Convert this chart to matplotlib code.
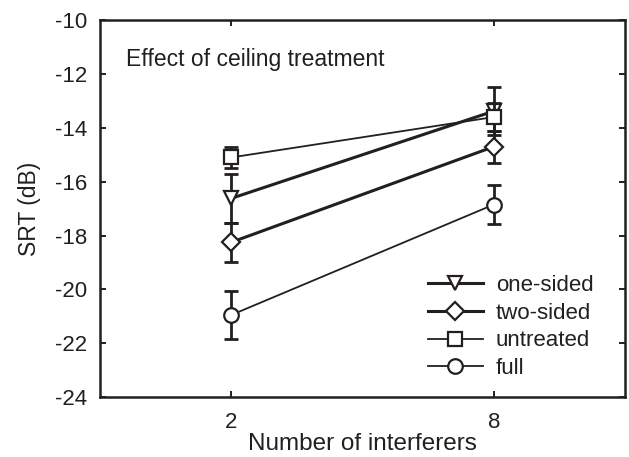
import matplotlib
matplotlib.use("Agg")
import matplotlib.pyplot as plt

plt.rcParams['font.family'] = ['Liberation Sans', 'DejaVu Sans']
plt.rcParams['axes.unicode_minus'] = False

interferers = [2, 8]
series_names = ["one-sided", "two-sided", "untreated", "full"]
srt_one_sided = [-16.62, -13.38]
err_one_sided = [0.9, 0.88]
srt_two_sided = [-18.25, -14.7]
err_two_sided = [0.72, 0.6]
srt_untreated = [-15.1, -13.6]
err_untreated = [0.38, 0.52]
srt_full = [-20.95, -16.85]
err_full = [0.9, 0.72]

yticks = [-24, -22, -20, -18, -16, -14, -12, -10]

ink = "#231f20"

fig = plt.figure(figsize=(6.29, 4.57), dpi=100)
ax = fig.add_axes([0.159, 0.131, 0.8346, 0.825])

styles = {
    "one-sided": dict(marker="v", ms=10, lw=2.2),
    "two-sided": dict(marker="D", ms=9, lw=2.2),
    "untreated": dict(marker="s", ms=9.5, lw=1.3),
    "full": dict(marker="o", ms=10.5, lw=1.3),
}
data = {
    "one-sided": (srt_one_sided, err_one_sided),
    "two-sided": (srt_two_sided, err_two_sided),
    "untreated": (srt_untreated, err_untreated),
    "full": (srt_full, err_full),
}
zorders = {"full": 3, "two-sided": 4, "one-sided": 5, "untreated": 6}

handles = []
for name in series_names:
    y, e = data[name]
    st = styles[name]
    ax.errorbar(interferers, y, yerr=e, fmt="none", ecolor=ink, elinewidth=2.0,
                capsize=5, capthick=2.0, zorder=zorders[name])
    h, = ax.plot(interferers, y, color=ink, lw=st["lw"], marker=st["marker"],
                 ms=st["ms"], mfc="white", mec=ink, mew=1.6, zorder=zorders[name] + 0.5)
    handles.append(h)

ax.set_xlim(-1, 11)
ax.set_ylim(-24, -10)
ax.set_xticks(interferers)
ax.set_yticks(yticks)
ax.tick_params(direction="in", top=True, right=True, length=4, width=1.4,
               labelsize=16, colors=ink)
ax.tick_params(axis="x", pad=11)
ax.tick_params(axis="y", pad=9)
for sp in ax.spines.values():
    sp.set_linewidth(1.8)
    sp.set_color(ink)

ax.set_xlabel("Number of interferers", fontsize=17.5, color=ink, labelpad=0)
ax.set_ylabel("SRT (dB)", fontsize=16.5, color=ink, labelpad=10)

ax.text(0.05, 0.895, "Effect of ceiling treatment", transform=ax.transAxes,
        fontsize=16.5, color=ink, va="center", ha="left")

leg = ax.legend(handles, series_names, loc="upper left",
                bbox_to_anchor=(0.625, 0.3236), frameon=False,
                fontsize=16, handlelength=2.45, handletextpad=0.6,
                labelspacing=0.3, borderpad=0, borderaxespad=0,
                labelcolor=ink)

fig.savefig("out.png", dpi=100)
